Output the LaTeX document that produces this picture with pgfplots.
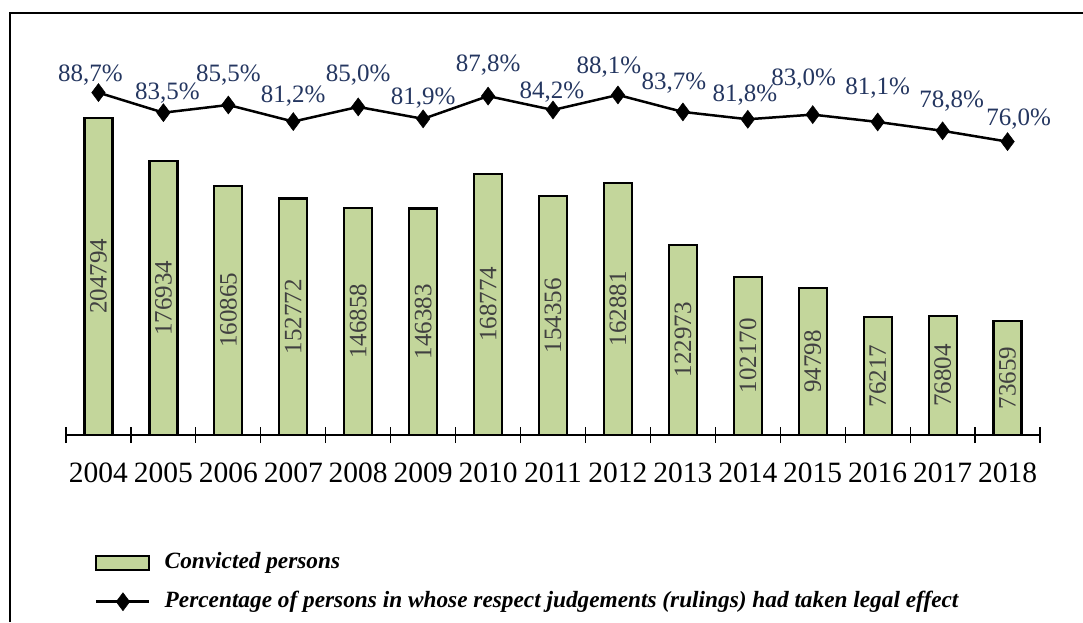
\documentclass[border=0pt]{standalone}
\usepackage{pgfplots}
\usepackage{pgfplotstable}
\pgfplotsset{compat=1.18}
\usepackage{fontspec}
\setmainfont{Liberation Serif}
\definecolor{barfill}{HTML}{C3D69B}
\definecolor{pctcol}{RGB}{36,54,96}
\pgfplotstableread{
x conv pct plab dx dy
0 204794 88.7 88,7 -8 11
1 176934 83.5 83,5 4 13
2 160865 85.5 85,5 0 23
3 152772 81.2 81,2 0 19
4 146858 85.0 85,0 0 25
5 146383 81.9 81,9 0 14.5
6 168774 87.8 87,8 0 24.5
7 154356 84.2 84,2 -1 11.5
8 162881 88.1 88,1 -9 21.5
9 122973 83.7 83,7 -9 22.5
10 102170 81.8 81,8 -3 18
11 94798 83.0 83,0 -9 29.5
12 76217 81.1 81,1 0 27.5
13 76804 78.8 78,8 9 23.5
14 73659 76.0 76,0 11 16.5
}\data
\pgfplotsset{
  mylinelegend/.style={legend image code/.code={\draw[mark repeat=2,mark phase=2,##1] plot coordinates {(0pt,0pt) (26.5pt,0pt) (53pt,0pt)};}},
  mybarlegend/.style={legend image code/.code={\draw[fill=barfill,draw=black,line width=2pt] (0pt,-7pt) rectangle (53pt,7pt);}},
  common/.style={scale only axis, width=974pt, height=375pt,
    at={(66pt,187pt)}, anchor=south west,
    xmin=-0.5, xmax=14.5, ymin=0, clip=false},
}
\begin{document}
\begin{tikzpicture}
\useasboundingbox (0,0) rectangle (1083pt,622pt);
\begin{axis}[common, ymax=242250,
  axis x line*=bottom, axis y line=none,
  axis line style={line width=1.2pt},
  xtick={0,...,14},
  xticklabels={2004,2005,2006,2007,2008,2009,2010,2011,2012,2013,2014,2015,2016,2017,2018},
  major tick length=0pt,
  minor xtick={-0.5,0.5,...,14.5},
  minor tick length=16pt, tick align=center,
  minor tick style={line width=1.2pt, black},
  xticklabel style={font=\fontsize{29.5}{34}\selectfont, anchor=base, yshift=-47pt, inner sep=0pt},
]
\addplot[ybar, bar width=28pt, fill=barfill, draw=black, line width=2.2pt] table[x=x, y=conv] {\data};
\addplot[draw=none, mark=none, nodes near coords, point meta=explicit symbolic,
  every node near coord/.append style={rotate=90, anchor=center, inner sep=0pt, text=black!75, font=\fontsize{25}{30}\selectfont}]
  table[x=x, y expr=\thisrow{conv}/2, meta=conv] {\data};
\end{axis}
\begin{axis}[common, ymax=97.15, axis lines=none,
  legend style={at={(0.0298,-0.3107)}, anchor=north west, draw=none, fill=none, inner sep=0pt,
    row sep=17pt, column sep=0pt,
    nodes={inner xsep=0pt, inner ysep=0pt, text height=17pt, text depth=5pt, font=\fontsize{23.3}{27}\selectfont\bfseries\itshape}},
  legend cell align=left,
]
\addlegendimage{mybarlegend}
\addlegendentry{\hspace{14pt}Convicted persons}
\addplot[black, line width=2.5pt, mark=diamond*, mark size=9pt,
  mark options={solid, fill=black, line width=0.5pt}, mylinelegend,
  nodes near coords={\pgfplotspointmeta\%}, point meta=explicit symbolic,
  visualization depends on={\thisrow{dx} \as \dx},
  visualization depends on={\thisrow{dy} \as \dy},
  every node near coord/.append style={anchor=base, inner sep=0pt, xshift=\dx pt, yshift=\dy pt, text=pctcol, font=\fontsize{25}{30}\selectfont}]
  table[x=x, y=pct, meta=plab] {\data};
\addlegendentry{\hspace{14pt}Percentage of persons in whose respect judgements (rulings) had taken legal effect}
\end{axis}
\draw[line width=1.5pt] (10pt,0pt) -- (10pt,609pt) -- (1083pt,609pt);
\end{tikzpicture}
\end{document}
